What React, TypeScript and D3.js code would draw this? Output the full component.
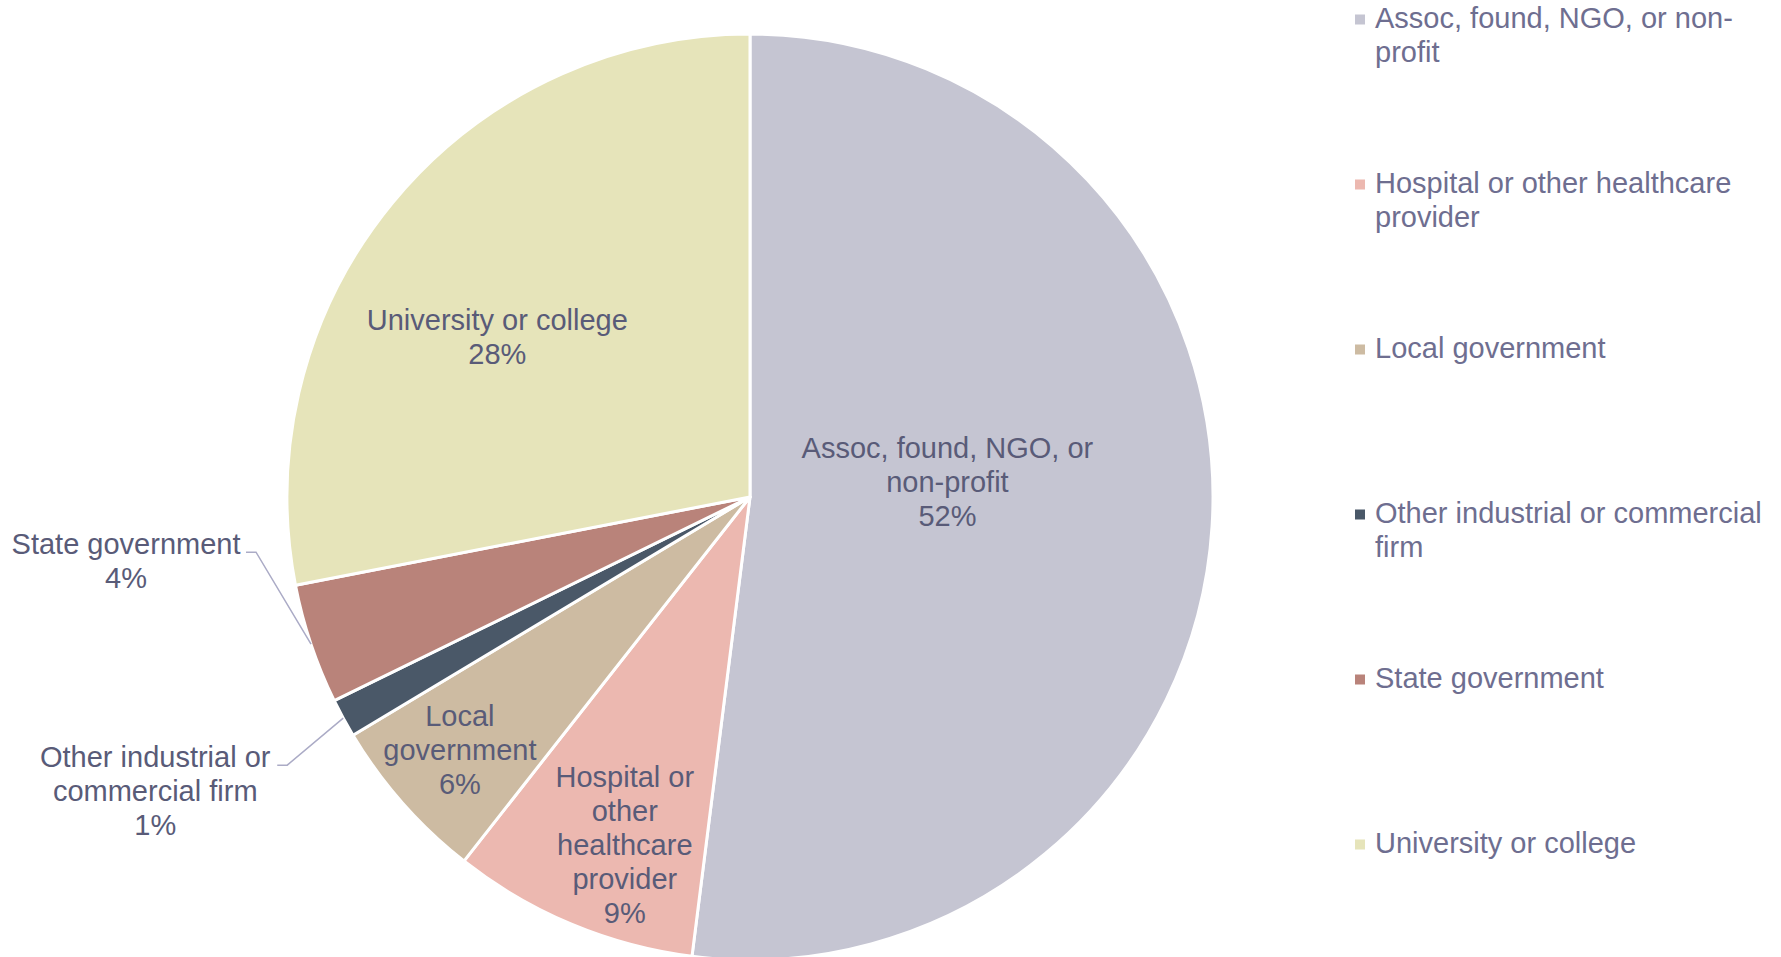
import React from "react";
import * as d3 from "d3";

const categories = [
  "Assoc, found, NGO, or non-profit",
  "Hospital or other healthcare provider",
  "Local government",
  "Other industrial or commercial firm",
  "State government",
  "University or college",
];
const values = [52.0, 8.6, 5.8, 1.35, 4.2, 28.05];
const colors = ["#C5C5D2", "#ECB8B0", "#CDBBA2", "#4A5868", "#B9837A", "#E6E4BA"];
const sliceLabelLines = [
  ["Assoc, found, NGO, or", "non-profit"],
  ["Hospital or", "other", "healthcare", "provider"],
  ["Local", "government"],
  ["Other industrial or", "commercial firm"],
  ["State government"],
  ["University or college"],
];
const legendLines = [
  ["Assoc, found, NGO, or non-", "profit"],
  ["Hospital or other healthcare", "provider"],
  ["Local government"],
  ["Other industrial or commercial", "firm"],
  ["State government"],
  ["University or college"],
];

// layout / style config
const W = 1781;
const H = 957;
const CX = 750;
const CY = 497;
const R = 463;
const FONT = "'Liberation Sans', Arial, Helvetica, sans-serif";
const FS = 29;
const LINE = 34;
const LABEL_COLOR = "#595B78";
const LEGEND_COLOR = "#6E6E90";
const LEADER_COLOR = "#ABABC6";

type Placement =
  | { type: "inside"; r: number; shift: number }
  | { type: "outside"; elbow: [number, number]; tail: number; textOffset: number };

const placements: Placement[] = [
  { type: "inside", r: 198, shift: -8 },
  { type: "inside", r: 370, shift: -2.9 },
  { type: "inside", r: 385, shift: 0.3 },
  { type: "outside", elbow: [-56, 47], tail: 10, textOffset: 122 },
  { type: "outside", elbow: [-55, -92], tail: 10, textOffset: 120 },
  { type: "inside", r: 299, shift: -7.2 },
];

export default function App() {
  React.useEffect(() => {
    document.body.style.margin = "0";
  }, []);

  const total = d3.sum(values);
  const pie = d3
    .pie<number>()
    .sort(null)
    .value((d) => d)
    .startAngle(0)
    .endAngle(2 * Math.PI);
  const arcs = pie(values);
  const arcGen = d3.arc<d3.PieArcDatum<number>>().innerRadius(0).outerRadius(R);
  const pct = (v: number) => `${Math.round((v / total) * 100)}%`;

  const legendX = 1355;
  const legendY0 = 18;
  const legendStep = 165;

  return (
    <svg
      width={W}
      height={H}
      style={{ position: "absolute", left: 0, top: 0, background: "#fff" }}
      fontFamily={FONT}
      fontSize={FS}
    >
      <g transform={`translate(${CX},${CY})`}>
        {arcs.map((a, i) => (
          <path key={i} d={arcGen(a) || ""} fill={colors[i]} stroke="#fff" strokeWidth={3} strokeLinejoin="round" />
        ))}
        {arcs.map((a, i) => {
          const p = placements[i];
          const mid = (a.startAngle + a.endAngle) / 2;
          const lines = [...sliceLabelLines[i], pct(values[i])];
          if (p.type === "inside") {
            const [x, y] = d3.pointRadial(mid + (p.shift * Math.PI) / 180, p.r);
            const y0 = y - ((lines.length - 1) * LINE) / 2;
            return (
              <text key={i} textAnchor="middle" fill={LABEL_COLOR}>
                {lines.map((l, k) => (
                  <tspan key={k} x={x} y={y0 + k * LINE} dy="0.35em">
                    {l}
                  </tspan>
                ))}
              </text>
            );
          }
          const [rx, ry] = d3.pointRadial(mid, R);
          const ex = rx + p.elbow[0];
          const ey = ry + p.elbow[1];
          const tx = ex - p.tail;
          const cx = tx - p.textOffset;
          const y0 = ey - 8;
          return (
            <g key={i}>
              <polyline
                points={`${rx},${ry} ${ex},${ey} ${tx},${ey}`}
                fill="none"
                stroke={LEADER_COLOR}
                strokeWidth={1.5}
              />
              <text textAnchor="middle" fill={LABEL_COLOR}>
                {lines.map((l, k) => (
                  <tspan key={k} x={cx} y={y0 + k * LINE} dy="0.35em">
                    {l}
                  </tspan>
                ))}
              </text>
            </g>
          );
        })}
      </g>
      <g>
        {categories.map((c, i) => {
          const y = legendY0 + i * legendStep;
          return (
            <g key={c}>
              <rect x={legendX} y={y - 3.5} width={10} height={10} fill={colors[i]} />
              <text fill={LEGEND_COLOR}>
                {legendLines[i].map((l, k) => (
                  <tspan key={k} x={legendX + 20} y={y + k * LINE} dy="0.35em">
                    {l}
                  </tspan>
                ))}
              </text>
            </g>
          );
        })}
      </g>
    </svg>
  );
}
